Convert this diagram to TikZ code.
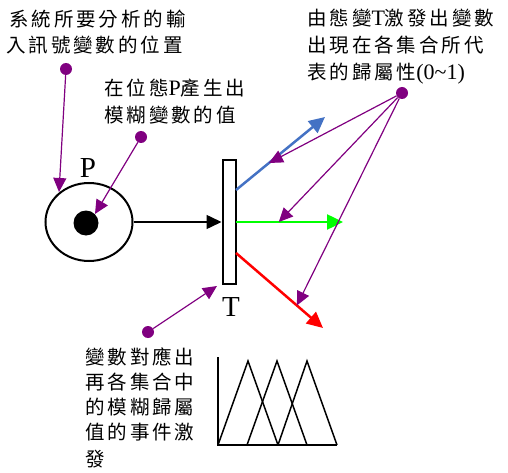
\documentclass[tikz,border=0pt]{standalone}
\usepackage{fontspec}
\setmainfont{Liberation Serif}
\newfontfamily\cjk[LetterSpace=15]{Noto Sans CJK TC}
\usetikzlibrary{arrows.meta,shapes.geometric,calc}
\definecolor{purp}{RGB}{128,0,128}
\definecolor{arrblue}{RGB}{68,114,196}
\definecolor{arrgreen}{RGB}{0,255,0}
\definecolor{arrred}{RGB}{255,0,0}
\newcommand{\lat}[1]{{\fontsize{22}{22}\selectfont\rmfamily #1}}
\begin{document}
\begin{tikzpicture}[x=1pt,y=-1pt,
  lbl/.style={anchor=base west, inner sep=0, font=\fontsize{19.5}{20}\selectfont\cjk},
  pdot/.style={circle, fill=purp, inner sep=0, minimum size=12pt},
  parrow/.style={purp, line width=1.2pt, -{Triangle[length=14pt,width=13pt]}},
  carrow/.style={line width=2.5pt, -{Triangle[length=16pt,width=15pt]}},
  letter/.style={inner sep=0, font=\fontsize{29}{29}\selectfont}
]
\useasboundingbox (0,0) rectangle (508,473);
% texts
\node[lbl] (t1a) at (9,26.5) {系統所要分析的輸};
\node[lbl] (t1b) at (6,53) {入訊號變數的位置};
\node[lbl] (t2a) at (104,95.5) {在位態\lat{P}產生出};
\node[lbl] (t2b) at (104,122.5) {模糊變數的值};
\node[lbl] (t3a) at (307,25.5) {由態變\lat{T}激發出變數};
\node[lbl] (t3b) at (307,52.5) {出現在各集合所代};
\node[lbl] (t3c) at (307,79.5) {表的歸屬性\lat{(0\textasciitilde1)}};
\node[lbl] (t4a) at (85,364.5) {變數對應出};
\node[lbl] (t4b) at (85,389.5) {再各集合中};
\node[lbl] (t4c) at (85,414.5) {的模糊歸屬};
\node[lbl] (t4d) at (85,439.5) {值的事件激};
\node[lbl] (t4e) at (85,466.5) {發};
% place and transition
\node[draw, ellipse, line width=2pt, minimum width=87pt, minimum height=78pt, inner sep=0] (place) at (89,222) {};
\node[circle, fill=black, minimum size=25pt, inner sep=0] (tok) at (86,223) {};
\node[letter] (plabel) at (88,168) {P};
\node[draw, line width=2pt, fill=white, minimum width=13pt, minimum height=123pt, inner sep=0] (trans) at (229,222) {};
\node[letter] (tlabel) at (231,307) {T};
\draw[line width=1.5pt, -{Triangle[length=15pt,width=14pt]}] (place.east) -- (trans.west);
% output arcs
\coordinate (bS) at (236,190); \coordinate (bE) at (325,117);
\coordinate (gS) at (236,222); \coordinate (gE) at (343,222);
\coordinate (rS) at (236,253); \coordinate (rE) at (323,328);
\draw[carrow, arrblue] (bS) -- (bE);
\draw[carrow, arrgreen] (gS) -- (gE);
\draw[carrow, arrred] (rS) -- (rE);
% purple pointers
\node[pdot] (d1) at (66,69) {};
\node[pdot] (d2) at (141,137) {};
\node[pdot] (d3) at (402,93) {};
\node[pdot] (d4) at (148,332) {};
\coordinate (p1) at (59,192);
\coordinate (t4tip) at (217,286);
\draw[parrow] (d1) -- (p1);
\draw[parrow] (d2) -- (tok.north east);
\draw[parrow] (d3) -- ($(bS)!0.37!(bE)$);
\draw[parrow] (d3) -- ($(gS)!0.4!(gE)$);
\draw[parrow] (d3) -- ($(rS)!0.7!(rE)$);
\draw[parrow] (d4) -- (t4tip);
% membership functions
\draw[line width=1.5pt] (218,357) -- (218,445) -- (337,445);
\draw[line width=1.5pt, line join=miter] (218,445) -- (248,361) -- (278,445);
\draw[line width=1.5pt, line join=miter] (247,445) -- (277,361) -- (307,445);
\draw[line width=1.5pt, line join=miter] (278,445) -- (307,361) -- (337,445);
\end{tikzpicture}
\end{document}
